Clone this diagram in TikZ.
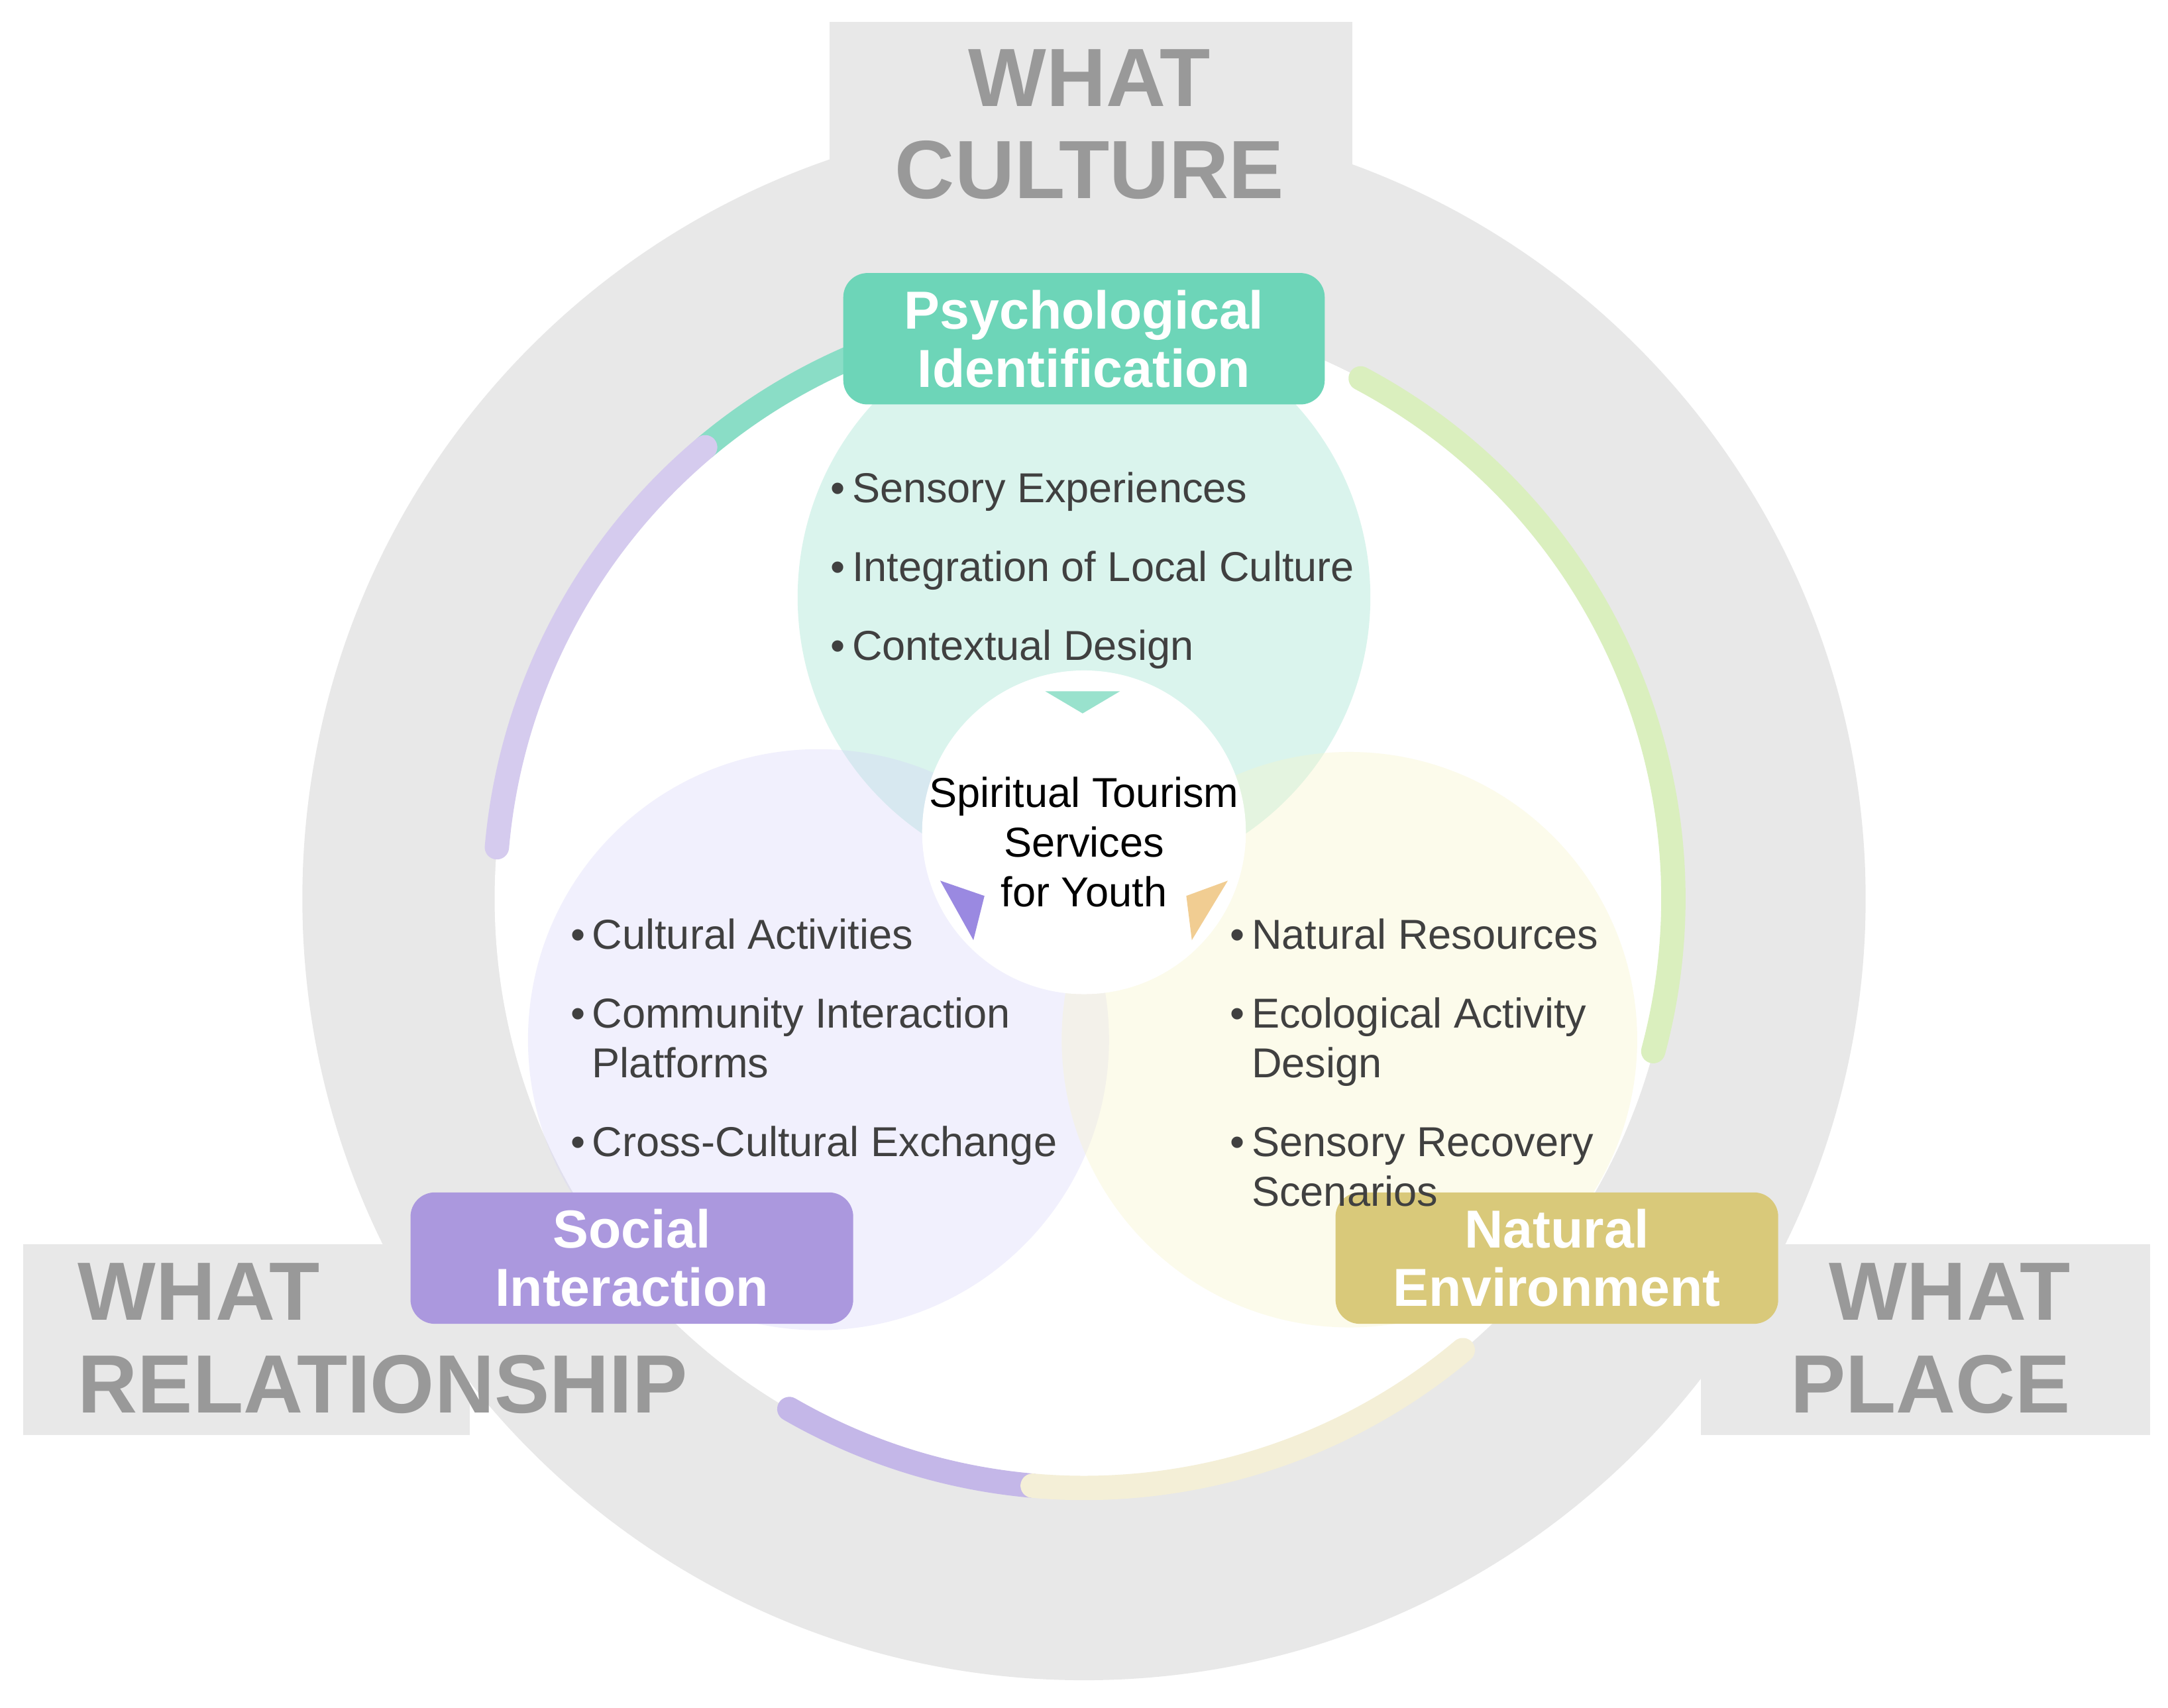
\documentclass[tikz,border=0pt]{standalone}
\usepackage{fontspec}
\setmainfont{Liberation Sans}
\begin{document}
\begin{tikzpicture}[x=0.01cm,y=-0.01cm,
  big/.style={font=\fontsize{17}{19}\selectfont\bfseries, text=gray!80, align=center},
  lab/.style={rounded corners=5pt, text=white, font=\fontsize{11}{12}\selectfont\bfseries, align=center, minimum width=3.2cm, minimum height=0.95cm, inner sep=0pt},
  item/.style={font=\fontsize{8.6}{10.2}\selectfont, text=black!75, align=left, anchor=north west, inner sep=0pt}]
\definecolor{ring}{HTML}{E8E8E8}
\definecolor{pg}{HTML}{6DD5B8}
\definecolor{pp}{HTML}{AB98DE}
\definecolor{py}{HTML}{D9C97A}
\useasboundingbox (0,0) rectangle (1568,1235);
\fill[white] (0,0) rectangle (1568,1235);
% ring and bands
\fill[ring] (600,16) rectangle (978,150);
\fill[ring] (17,900) rectangle (340,1038);
\fill[ring] (1230,900) rectangle (1555,1038);
\fill[ring] (784,650) circle (5.65cm);
\fill[white] (784,650) circle (4.26cm);
% arcs on inner circle
\draw[line width=5pt, pg!80, line cap=round] (784,650) ++(130:4.26cm) arc (130:105:4.26cm);
\draw[line width=5pt, pp!50, line cap=round] (784,650) ++(175:4.26cm) arc (175:130:4.26cm);
\draw[line width=5pt, green!25!py!40, line cap=round] (784,650) ++(62:4.26cm) arc (62:-15:4.26cm);
\draw[line width=5pt, pp!70, line cap=round] (784,650) ++(-120:4.26cm) arc (-120:-95:4.26cm);
\draw[line width=5pt, py!30, line cap=round] (784,650) ++(-95:4.26cm) arc (-95:-50:4.26cm);
% circles
\fill[pg, fill opacity=0.25] (784,432) circle (2.07cm);
\fill[pp!60!blue!30, fill opacity=0.3] (592,752) circle (2.1cm);
\fill[py!60!yellow!30, fill opacity=0.35] (976,752) circle (2.08cm);
\node[circle, fill=white, minimum size=2.34cm, inner sep=0pt, align=center, font=\fontsize{8.6}{10.2}\selectfont] (c) at (784,602) {};
\node[align=center, font=\fontsize{8.6}{10.2}\selectfont] (ct) at (784,609) {Spiritual Tourism\\Services\\for Youth};
\fill[pg!70] (756,500) -- (810,500) -- (783,516) -- cycle;
\fill[pp!90!blue] (680,637) -- (712,648) -- (704,680) -- cycle;
\fill[py!60!orange!60] (858,648) -- (888,637) -- (862,680) -- cycle;
% labels
\node[lab, fill=pg, minimum width=3.48cm] (pi) at (784,245) {Psychological\\Identification};
\node[lab, fill=pp] (si) at (457,910) {Social\\Interaction};
\node[lab, fill=py] (ne) at (1126,910) {Natural\\Environment};
\node[big] (wc) at (788,90) {WHAT\\CULTURE};
\node[big, align=left, anchor=west] (wr) at (44,968) {WHAT\\RELATIONSHIP};
\node[big, align=right, anchor=east] (wp) at (1510,968) {WHAT\\PLACE};
% items
\node[item] (i1) at (600,341) {\textbullet\,Sensory Experiences\\[6pt]\textbullet\,Integration of Local Culture\\[6pt]\textbullet\,Contextual Design};
\node[item] (i2) at (412,664) {\textbullet\,Cultural Activities\\[6pt]\textbullet\,Community Interaction\\\phantom{\textbullet\,}Platforms\\[6pt]\textbullet\,Cross-Cultural Exchange};
\node[item] (i3) at (889,664) {\textbullet\,Natural Resources\\[6pt]\textbullet\,Ecological Activity\\\phantom{\textbullet\,}Design\\[6pt]\textbullet\,Sensory Recovery\\\phantom{\textbullet\,}Scenarios};
\end{tikzpicture}
\end{document}
